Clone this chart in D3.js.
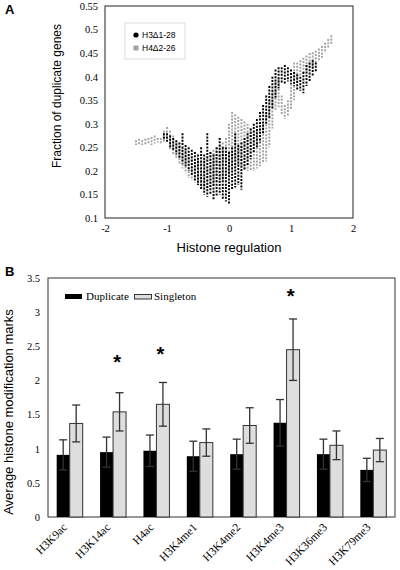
<!DOCTYPE html>
<html><head><meta charset="utf-8">
<script src="https://cdn.jsdelivr.net/npm/d3@7"></script>
<style>body{margin:0;background:#fff}svg{display:block}</style>
</head><body>
<svg id="c" width="400" height="570"></svg>
<script>
// ---------- Panel A data: [histone regulation, fraction low, fraction high] ----------
const h3Cols = [
 [-1.05,0.265,0.28],[-1.00,0.26,0.28],[-0.95,0.25,0.275],[-0.90,0.245,0.27],[-0.85,0.235,0.265],
 [-0.80,0.225,0.26],[-0.75,0.215,0.28],[-0.70,0.21,0.255],[-0.65,0.20,0.25],[-0.60,0.19,0.245],
 [-0.55,0.18,0.24],[-0.50,0.17,0.235],[-0.45,0.16,0.25],[-0.40,0.15,0.235],[-0.35,0.145,0.28],
 [-0.30,0.15,0.24],[-0.25,0.14,0.235],[-0.20,0.145,0.25],[-0.15,0.15,0.27],[-0.10,0.14,0.25],
 [-0.05,0.135,0.25],[0.00,0.13,0.24],[0.05,0.16,0.25],[0.10,0.165,0.28],[0.15,0.17,0.255],
 [0.20,0.16,0.26],[0.25,0.20,0.27],[0.30,0.21,0.28],[0.35,0.225,0.29],[0.40,0.24,0.30],
 [0.45,0.25,0.31],[0.50,0.26,0.325],[0.55,0.28,0.34],[0.60,0.30,0.36],[0.65,0.31,0.38],
 [0.70,0.33,0.40],[0.75,0.355,0.415],[0.80,0.375,0.42],[0.85,0.385,0.42],[0.90,0.385,0.425],
 [0.95,0.39,0.42],[1.00,0.385,0.415],[1.05,0.38,0.41],[1.10,0.37,0.405],[1.15,0.37,0.40],
 [1.20,0.365,0.41],[1.25,0.38,0.425],[1.30,0.39,0.43],[1.35,0.40,0.435],[1.40,0.41,0.43]
];
const h4Cols = [
 [-1.50,0.255,0.265],[-1.45,0.255,0.268],[-1.40,0.255,0.265],[-1.35,0.255,0.268],[-1.30,0.258,0.27],
 [-1.25,0.255,0.272],[-1.20,0.258,0.275],[-1.15,0.26,0.27],[-1.10,0.258,0.27],[-1.05,0.262,0.285],
 [-1.00,0.265,0.293],[-0.95,0.245,0.285],[-0.90,0.235,0.275],[-0.85,0.225,0.26],[-0.80,0.215,0.255],
 [-0.75,0.205,0.25],[-0.70,0.195,0.245],[-0.65,0.185,0.235],[-0.60,0.18,0.23],[-0.55,0.175,0.225],
 [-0.50,0.17,0.225],[-0.45,0.165,0.22],[-0.40,0.16,0.225],[-0.35,0.16,0.23],[-0.30,0.165,0.24],
 [-0.25,0.17,0.245],[-0.20,0.175,0.25],[-0.15,0.175,0.255],[-0.10,0.18,0.26],[-0.05,0.185,0.27],
 [0.00,0.19,0.30],[0.05,0.20,0.325],[0.10,0.205,0.32],[0.15,0.21,0.315],[0.20,0.21,0.31],
 [0.25,0.205,0.305],[0.30,0.20,0.30],[0.35,0.20,0.29],[0.40,0.20,0.285],[0.45,0.205,0.285],
 [0.50,0.21,0.29],[0.55,0.215,0.30],[0.60,0.22,0.32],[0.65,0.25,0.35],[0.70,0.29,0.37],
 [0.75,0.33,0.39],[0.80,0.335,0.395],[0.85,0.32,0.36],[0.90,0.31,0.34],[0.95,0.315,0.35],
 [1.00,0.33,0.385],[1.05,0.35,0.43],[1.10,0.39,0.43],[1.15,0.40,0.435],[1.20,0.405,0.44],
 [1.25,0.41,0.445],[1.30,0.415,0.45],[1.35,0.42,0.452],[1.40,0.43,0.455],[1.45,0.435,0.46],
 [1.50,0.44,0.465],[1.55,0.45,0.472],[1.60,0.46,0.48],[1.65,0.47,0.488]
];
const aYTicks = [0.1,0.15,0.2,0.25,0.3,0.35,0.4,0.45,0.5,0.55];
const aXTicks = [-2,-1,0,1,2];
const aLegend = ["H3\u03941-28","H4\u03942-26"];

// ---------- Panel B data ----------
const marks = ["H3K9ac","H3K14ac","H4ac","H3K4me1","H3K4me2","H3K4me3","H3K36me3","H3K79me3"];
const duplicate = [0.91,0.95,0.97,0.89,0.92,1.38,0.92,0.69];
const duplicateErr = [0.22,0.22,0.23,0.22,0.22,0.34,0.22,0.17];
const singleton = [1.37,1.54,1.65,1.09,1.34,2.45,1.05,0.98];
const singletonErr = [0.27,0.28,0.32,0.20,0.26,0.45,0.21,0.17];
const starAt = [null,2.3,2.42,null,null,3.26,null,null];
const bYTicks = [0,0.5,1,1.5,2,2.5,3,3.5];
const bLegend = ["Duplicate","Singleton"];

const svg = d3.select("#c");
const serif = "'Liberation Serif','Times New Roman',serif";
const sans = "'Liberation Sans',Arial,sans-serif";

// ================= Panel A =================
const ax = d3.scaleLinear().domain([-2,2]).range([105,353]);
const ay = d3.scaleLinear().domain([0.1,0.55]).range([218,6]);
const gA = svg.append("g");

function drawCols(data, color){
  gA.append("g").selectAll("line").data(data).join("line")
    .attr("x1",d=>ax(d[0])).attr("x2",d=>ax(d[0]))
    .attr("y1",d=>ay(d[2])).attr("y2",d=>ay(d[1]))
    .attr("stroke",color).attr("stroke-width",1.9)
    .attr("stroke-dasharray","2,1.3");
}
drawCols(h4Cols,"#a3a3a3");
drawCols(h3Cols,"#000");

gA.append("rect").attr("x",ax(-2)).attr("y",ay(0.55))
  .attr("width",ax(2)-ax(-2)).attr("height",ay(0.1)-ay(0.55))
  .attr("fill","none").attr("stroke","#222").attr("stroke-width",1);

const ayAxis = gA.append("g").attr("transform",`translate(${ax(-2)},0)`)
  .call(d3.axisLeft(ay).tickValues(aYTicks).tickFormat(d3.format("")).tickSize(0).tickPadding(7));
const axAxis = gA.append("g").attr("transform",`translate(0,${ay(0.1)})`)
  .call(d3.axisBottom(ax).tickValues(aXTicks).tickFormat(d=>d).tickSize(0).tickPadding(7));
[ayAxis,axAxis].forEach(a=>{a.select(".domain").remove();
  a.selectAll("text").attr("font-family",serif).attr("font-size",10.5).attr("fill","#000");});

gA.append("text").attr("x",229).attr("y",252).attr("text-anchor","middle")
  .attr("font-family",sans).attr("font-size",13).text("Histone regulation");
gA.append("text").attr("transform","translate(61,96) rotate(-90)").attr("text-anchor","middle")
  .attr("font-family",sans).attr("font-size",12).text("Fraction of duplicate genes");
gA.append("text").attr("x",5).attr("y",14).attr("font-family",sans).attr("font-weight","bold")
  .attr("font-size",13).text("A");

// legend A
const lgA = gA.append("g");
lgA.append("rect").attr("x",125).attr("y",23).attr("width",60).attr("height",36)
  .attr("fill","#fff").attr("stroke","#ddd").attr("stroke-width",1);
lgA.append("circle").attr("cx",136).attr("cy",35).attr("r",2.6).attr("fill","#000");
lgA.append("rect").attr("x",133.5).attr("y",45.5).attr("width",5).attr("height",5).attr("fill","#a3a3a3");
lgA.selectAll("text.l").data(aLegend).join("text").attr("class","l")
  .attr("x",142).attr("y",(d,i)=>38+i*13).attr("font-family",sans).attr("font-size",8.5).text(d=>d);

// ================= Panel B =================
const bx = d3.scaleBand().domain(marks).range([48,395]);
const by = d3.scaleLinear().domain([0,3.5]).range([517,278]);
const gB = svg.append("g");
const bw = 13;

gB.append("rect").attr("x",48).attr("y",by(3.5)).attr("width",395-48).attr("height",by(0)-by(3.5))
  .attr("fill","none").attr("stroke","#333").attr("stroke-width",1);

const grp = gB.selectAll("g.grp").data(marks).join("g").attr("class","grp");
grp.append("rect").attr("x",d=>bx(d)+bx.bandwidth()/2-bw).attr("width",bw)
  .attr("y",(d,i)=>by(duplicate[i])).attr("height",(d,i)=>by(0)-by(duplicate[i]))
  .attr("fill","#000");
grp.append("rect").attr("x",d=>bx(d)+bx.bandwidth()/2).attr("width",bw)
  .attr("y",(d,i)=>by(singleton[i])).attr("height",(d,i)=>by(0)-by(singleton[i]))
  .attr("fill","#dedede").attr("stroke","#333").attr("stroke-width",1);

function errBar(cx, v, e){
  const g = gB.append("g").attr("stroke","#333").attr("stroke-width",1.3);
  g.append("line").attr("x1",cx).attr("x2",cx).attr("y1",by(v-e)).attr("y2",by(v+e));
  g.append("line").attr("x1",cx-4).attr("x2",cx+4).attr("y1",by(v+e)).attr("y2",by(v+e));
  g.append("line").attr("x1",cx-4).attr("x2",cx+4).attr("y1",by(v-e)).attr("y2",by(v-e));
}
marks.forEach((m,i)=>{
  const c = bx(m)+bx.bandwidth()/2;
  errBar(c-bw/2, duplicate[i], duplicateErr[i]);
  errBar(c+bw/2, singleton[i], singletonErr[i]);
  if(starAt[i]!=null){
    gB.append("text").attr("x",c+4).attr("y",by(starAt[i])+9).attr("text-anchor","middle")
      .attr("font-family",sans).attr("font-weight","bold").attr("font-size",20).text("*");
  }
});

const byAxis = gB.append("g").attr("transform","translate(48,0)")
  .call(d3.axisLeft(by).tickValues(bYTicks).tickFormat(d3.format("")).tickSize(0).tickPadding(8));
byAxis.select(".domain").remove();
byAxis.selectAll("text").attr("font-family",serif).attr("font-size",10.5).attr("fill","#000");

const bxAxis = gB.append("g").attr("transform","translate(0,517)")
  .call(d3.axisBottom(bx).tickSize(0).tickPadding(0));
bxAxis.select(".domain").remove();
bxAxis.selectAll("text").attr("font-family",serif).attr("font-size",11.5).attr("fill","#000")
  .attr("text-anchor","end").attr("dy",0).attr("y",0)
  .attr("transform","translate(-2,11) rotate(-45)");

gB.append("text").attr("transform","translate(13,412) rotate(-90)").attr("text-anchor","middle")
  .attr("font-family",sans).attr("font-size",13).text("Average histone modification marks");
gB.append("text").attr("x",5).attr("y",276).attr("font-family",sans).attr("font-weight","bold")
  .attr("font-size",13).text("B");

// legend B
gB.append("rect").attr("x",65).attr("y",294).attr("width",17).attr("height",5).attr("fill","#000");
gB.append("rect").attr("x",134.5).attr("y",294.5).attr("width",17).attr("height",4.5)
  .attr("fill","#dedede").attr("stroke","#333").attr("stroke-width",1);
gB.selectAll("text.lb").data(bLegend).join("text").attr("class","lb")
  .attr("x",(d,i)=>i===0?86:154).attr("y",300).attr("font-family",serif).attr("font-size",11).text(d=>d);
</script>
</body></html>
